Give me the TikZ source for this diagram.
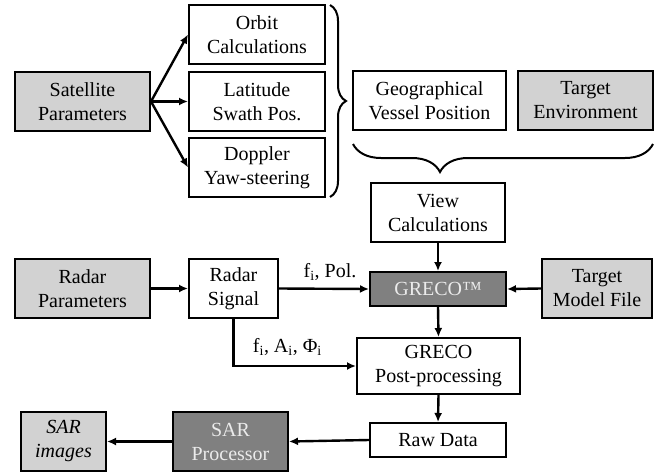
\documentclass[tikz,border=0pt]{standalone}
\usepackage{fontspec}
\setmainfont{Liberation Serif}
\usetikzlibrary{arrows.meta,decorations.pathreplacing}
\definecolor{boxlite}{RGB}{210,210,210}
\definecolor{boxdark}{RGB}{128,128,128}
\definecolor{textlite}{RGB}{235,235,235}
\begin{document}
\begin{tikzpicture}[x=1pt,y=-1pt,
    font=\fontsize{20}{24}\selectfont,
    blk/.style={draw, line width=2pt, align=center, inner sep=0pt},
    lite/.style={blk, fill=boxlite},
    dark/.style={blk, fill=boxdark, text=textlite},
    arr/.style={->, line width=2.4pt},
    >={Latex[length=9pt,width=8pt]}]
        \useasboundingbox (0,0) rectangle (659,474);
        % satellite part
        \node[lite, minimum width=135pt, minimum height=59pt] (sat) at (82.5,101.5) {Satellite\\Parameters};
        \node[blk, minimum width=136pt, minimum height=59pt] (orbit) at (257,34.5) {Orbit\\Calculations};
        \node[blk, minimum width=136pt, minimum height=59pt] (lat) at (257,101.5) {Latitude\\Swath Pos.};
        \node[blk, minimum width=136pt, minimum height=59pt] (dop) at (257,167.5) {Doppler\\Yaw-steering};
        \node[blk, minimum width=153pt, minimum height=59pt] (geo) at (429.5,100.5) {Geographical\\Vessel Position};
        \node[lite, minimum width=135pt, minimum height=59pt] (tenv) at (585.5,100.5) {Target\\Environment};
        \node[blk, minimum width=134pt, minimum height=59pt] (view) at (438,212.5) {View\\Calculations};
        \draw[arr] (sat.east) -- (orbit.west);
        \draw[arr] (sat.east) -- (lat.west);
        \draw[arr] (sat.east) -- (dop.west);
        \draw[line width=2pt, decorate, decoration={brace, amplitude=16pt}] (330,5) -- (330,197);
        \draw[line width=2pt, decorate, decoration={brace, amplitude=28pt, aspect=0.71}] (653,144) -- (353,144);
        % radar part
        \node[lite, minimum width=135pt, minimum height=59pt] (radp) at (82.5,288.5) {Radar\\Parameters};
        \node[blk, minimum width=89pt, minimum height=59pt] (rads) at (233.5,288.5) {Radar\\Signal};
        \node[dark, minimum width=136pt, minimum height=34pt] (greco) at (438,289) {GRECO™};
        \node[lite, minimum width=110pt, minimum height=59pt] (tmf) at (597,288.5) {Target\\Model File};
        \node[blk, minimum width=163pt, minimum height=56pt] (post) at (438.5,366) {GRECO\\Post-processing};
        \node[blk, minimum width=136pt, minimum height=34pt] (raw) at (438,440) {Raw Data};
        \node[dark, minimum width=115pt, minimum height=59pt] (sarp) at (230.5,441.5) {SAR\\Processor};
        \node[lite, minimum width=85pt, minimum height=59pt] (sari) at (63.5,441.5) {\textit{SAR}\\\textit{images}};
        \draw[arr] (view.south) -- (greco.north);
        \draw[arr] (radp.east) -- (rads.west);
        \draw[arr] (rads.east) -- (greco.west) node[midway, above=4pt, xshift=6pt] {f\textsubscript{i}, Pol.};
        \draw[arr] (tmf.west) -- (greco.east);
        \draw[arr] (greco.south) -- (post.north);
        \draw[arr] (rads.south) |- (post.west) node[pos=0.72, above=6pt] {f\textsubscript{i}, A\textsubscript{i}, Φ\textsubscript{i}};
        \draw[arr] (post.south) -- (raw.north);
        \draw[arr] (raw.west) -- (sarp.east);
        \draw[arr] (sarp.west) -- (sari.east);
    \end{tikzpicture}
\end{document}
